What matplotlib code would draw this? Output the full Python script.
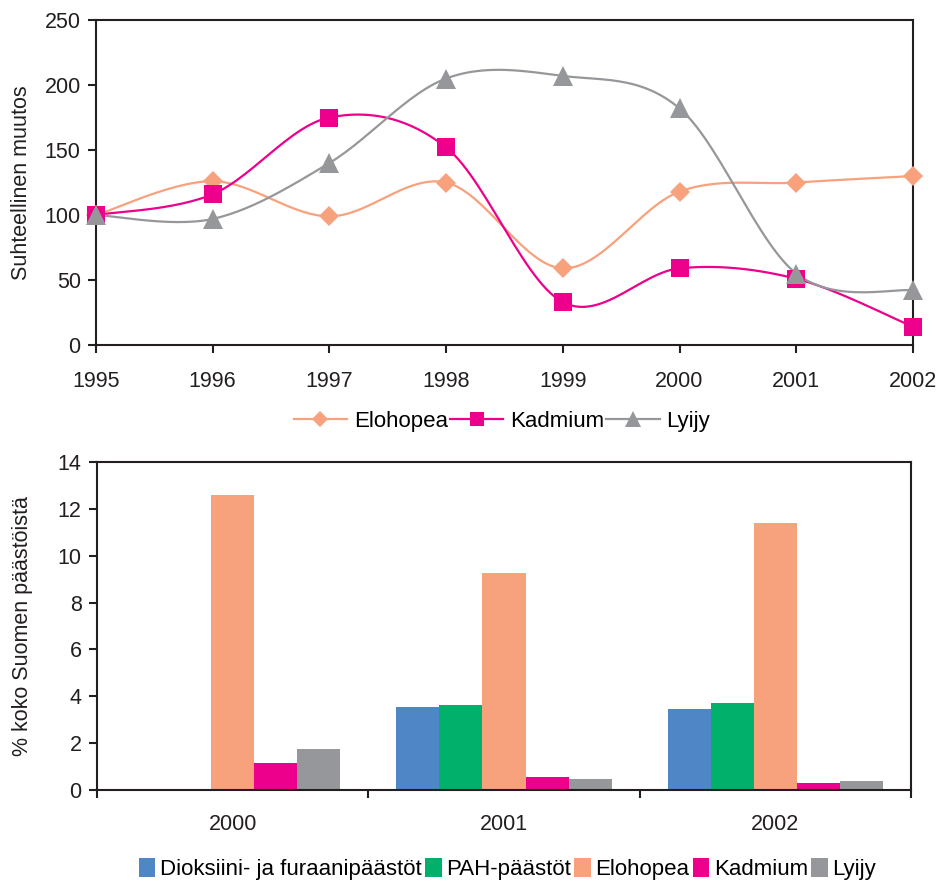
import numpy as np
import matplotlib
matplotlib.use("Agg")
import matplotlib.pyplot as plt
from matplotlib.lines import Line2D
from matplotlib.patches import Patch

plt.rcParams['font.family'] = ['Liberation Sans', 'DejaVu Sans']

# Relative change (1995 = 100)
years = [1995, 1996, 1997, 1998, 1999, 2000, 2001, 2002]
elohopea_rel = [100, 126, 99, 125, 59, 118, 125, 130]
kadmium_rel = [100, 116, 175, 152, 33, 59, 51, 14]
lyijy_rel = [100, 97, 140, 205, 207, 182, 55, 42]

# Share of total Finnish emissions (%)
bar_years = ['2000', '2001', '2002']
dioksiini = [0, 3.56, 3.47]
pah = [0, 3.63, 3.71]
elohopea_pct = [12.59, 9.27, 11.4]
kadmium_pct = [1.17, 0.55, 0.31]
lyijy_pct = [1.75, 0.47, 0.38]

C_BLUE = '#4F86C6'
C_GREEN = '#00B06B'
C_SALMON = '#F7A17D'
C_MAGENTA = '#EC008C'
C_GRAY = '#96979A'
C_AXIS = '#231F20'
FS = 15.5
FS_LEG = 16


def smooth(x, y, n=30):
    """Catmull-Rom style Bezier smoothing through the given points."""
    x = np.asarray(x, float)
    y = np.asarray(y, float)
    P = np.column_stack([x, y])
    out = []
    for i in range(len(P) - 1):
        p0 = P[i - 1] if i > 0 else P[i]
        p1 = P[i]
        p2 = P[i + 1]
        p3 = P[i + 2] if i + 2 < len(P) else P[i + 1]
        c1 = p1 + (p2 - p0) / 6.0
        c2 = p2 - (p3 - p1) / 6.0
        t = np.linspace(0, 1, n)[:, None]
        seg = ((1 - t) ** 3) * p1 + 3 * ((1 - t) ** 2) * t * c1 + 3 * (1 - t) * t ** 2 * c2 + t ** 3 * p2
        out.append(seg if i == 0 else seg[1:])
    s = np.vstack(out)
    return s[:, 0], s[:, 1]


fig = plt.figure(figsize=(9.38, 8.82), dpi=100)

# ---------------- Line chart ----------------
ax1 = fig.add_axes([0.1023, 0.6088, 0.8710, 0.3685])
series = [
    ('Elohopea', elohopea_rel, C_SALMON, 'D', 10.5),
    ('Kadmium', kadmium_rel, C_MAGENTA, 's', 13),
    ('Lyijy', lyijy_rel, C_GRAY, '^', 15),
]
handles = []
for name, vals, col, mk, ms in series:
    sx, sy = smooth(years, vals)
    ax1.plot(sx, sy, color=col, lw=1.6, zorder=3, clip_on=False)
    ax1.plot(years, vals, linestyle='none', marker=mk, markersize=ms, color=col,
             markeredgewidth=0, zorder=4, clip_on=False)
    handles.append(Line2D([], [], color=col, lw=1.6, marker=mk, markersize=ms * 0.8,
                          markeredgewidth=0))

ax1.set_xlim(1995, 2002)
ax1.set_ylim(0, 250)
ax1.set_xticks(years)
ax1.set_xticklabels([str(y) for y in years])
ax1.set_yticks(range(0, 251, 50))
ax1.set_ylabel('Suhteellinen muutos', fontsize=FS, color=C_AXIS, labelpad=9)
ax1.tick_params(axis='both', labelsize=FS, colors=C_AXIS, direction='out',
                length=6, width=1.5)
ax1.tick_params(axis='x', pad=13)
ax1.tick_params(axis='y', pad=5)
for sp in ax1.spines.values():
    sp.set_color(C_AXIS)
    sp.set_linewidth(1.5)

fig.legend(handles, [s[0] for s in series], loc='center', bbox_to_anchor=(0.535, 0.522),
           ncol=3, frameon=False, fontsize=FS_LEG, handlelength=2.4, handletextpad=0.3,
           columnspacing=0.1, borderaxespad=0)

# ---------------- Bar chart ----------------
ax2 = fig.add_axes([0.1034, 0.1043, 0.8678, 0.3719])
bar_series = [
    ('Dioksiini- ja furaanipäästöt', dioksiini, C_BLUE),
    ('PAH-päästöt', pah, C_GREEN),
    ('Elohopea', elohopea_pct, C_SALMON),
    ('Kadmium', kadmium_pct, C_MAGENTA),
    ('Lyijy', lyijy_pct, C_GRAY),
]
n = len(bar_series)
gap = 1.3
w = 1.0 / (n + gap)
x = np.arange(len(bar_years))
for i, (name, vals, col) in enumerate(bar_series):
    ax2.bar(x + (i - (n - 1) / 2) * w, vals, width=w, color=col, edgecolor='none',
            label=name, zorder=2)

ax2.set_xlim(-0.5, len(bar_years) - 0.5)
ax2.set_ylim(0, 14)
ax2.set_yticks(range(0, 15, 2))
ax2.set_xticks(x)
ax2.set_xticklabels(bar_years)
ax2.set_xticks(np.arange(len(bar_years) + 1) - 0.5, minor=True)
ax2.tick_params(axis='x', which='major', length=0, pad=17)
ax2.tick_params(axis='x', which='minor', length=6, width=1.5, colors=C_AXIS, direction='out')
ax2.tick_params(axis='both', labelsize=FS, labelcolor=C_AXIS)
ax2.tick_params(axis='y', length=6, width=1.5, colors=C_AXIS, direction='out', pad=5)
ax2.set_ylabel('% koko Suomen päästöistä', fontsize=FS, color=C_AXIS, labelpad=18)
for sp in ax2.spines.values():
    sp.set_color(C_AXIS)
    sp.set_linewidth(1.5)

bar_handles = [Patch(facecolor=c, edgecolor='none') for _, _, c in bar_series]
fig.legend(bar_handles, [s[0] for s in bar_series], loc='center',
           bbox_to_anchor=(0.541, 0.0147), ncol=5, frameon=False, fontsize=FS_LEG,
           handlelength=0.75, handleheight=0.9, handletextpad=0.2, columnspacing=0.15,
           borderaxespad=0)

fig.savefig('out.png', dpi=100)
